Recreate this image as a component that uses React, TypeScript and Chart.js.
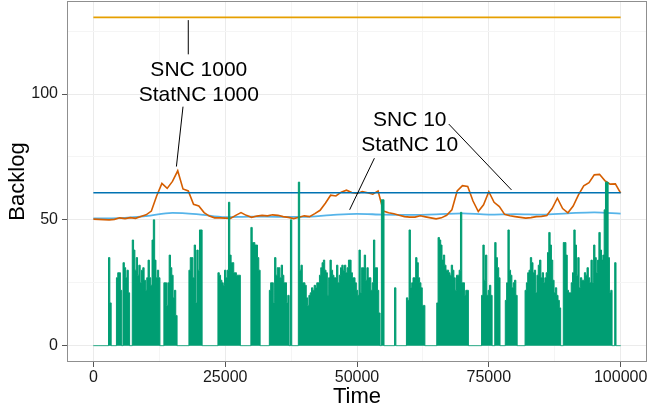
import React, { useEffect, useRef } from "react";
import { Chart, registerables } from "chart.js";

Chart.register(...registerables);

// ---- data ----
const BACKLOG_STEP = 250; // time between backlog samples
const backlogValues = [
  0, 0, 0, 0, 0, 0, 0, 0, 0, 0, 0, 0, 35, 17, 0, 0, 0, 0, 27, 29,
  29, 22, 0, 33, 31, 27, 30, 21, 0, 0, 42, 38, 30, 35, 28, 32, 25, 30, 31, 26,
  22, 27, 34, 27, 24, 42, 50, 34, 27, 30, 27, 0, 0, 0, 25, 25, 16, 25, 36, 31,
  28, 19, 22, 12, 0, 0, 0, 0, 0, 0, 0, 0, 0, 30, 35, 35, 27, 40, 17, 38,
  30, 46, 46, 0, 0, 0, 0, 0, 0, 0, 0, 0, 0, 0, 0, 29, 28, 26, 25, 24,
  30, 27, 30, 57, 36, 33, 33, 29, 29, 28, 28, 28, 0, 0, 0, 0, 0, 0, 0, 0,
  47, 41, 41, 40, 40, 35, 30, 0, 0, 0, 0, 0, 0, 0, 22, 25, 25, 17, 35, 28,
  31, 31, 27, 32, 28, 25, 25, 17, 20, 0, 50, 0, 0, 0, 0, 0, 65, 30, 32, 25,
  25, 24, 19, 16, 20, 21, 23, 22, 24, 23, 25, 25, 28, 31, 33, 34, 30, 29, 20, 27,
  34, 30, 28, 27, 27, 32, 25, 28, 31, 32, 30, 32, 29, 31, 34, 34, 29, 27, 27, 25,
  22, 20, 38, 21, 31, 31, 36, 26, 31, 27, 27, 22, 25, 42, 31, 31, 22, 13, 0, 58,
  58, 0, 0, 0, 0, 0, 0, 0, 0, 23, 0, 0, 0, 0, 0, 0, 0, 0, 19, 18,
  46, 23, 25, 27, 27, 35, 33, 27, 25, 23, 16, 16, 0, 0, 0, 0, 0, 0, 0, 0,
  0, 17, 43, 42, 40, 34, 36, 32, 30, 30, 29, 28, 32, 30, 27, 22, 28, 28, 30, 53,
  25, 25, 20, 22, 22, 0, 0, 0, 0, 0, 0, 0, 0, 0, 0, 20, 40, 26, 36, 20,
  22, 24, 20, 0, 0, 41, 35, 31, 27, 0, 0, 0, 0, 18, 25, 46, 30, 28, 23, 25,
  26, 20, 0, 0, 0, 0, 0, 0, 22, 25, 29, 30, 35, 33, 29, 30, 21, 28, 32, 34,
  27, 29, 25, 27, 29, 37, 45, 40, 34, 26, 21, 23, 20, 18, 15, 0, 0, 41, 41, 36,
  22, 21, 21, 25, 29, 46, 40, 28, 35, 23, 27, 26, 26, 29, 28, 31, 27, 25, 34, 25,
  40, 35, 29, 34, 45, 38, 34, 36, 54, 65, 65, 35, 21, 22, 0, 0, 33, 0, 0, 0,
  0,
];

const STATNC1000_STEP = 1000;
const statNc1000Values = [
  50.3, 50.2, 50.1, 50.0, 50.2, 50.8, 50.5, 50.9, 50.6, 51.3,
  52.0, 53.5, 59.5, 64.5, 62.5, 65.3, 69.5, 62.3, 61.5, 56.2,
  55.5, 52.9, 51.5, 50.8, 50.8, 50.7, 50.6, 51.8, 52.9, 51.8,
  51.0, 51.5, 51.8, 51.6, 52.0, 51.8, 51.3, 51.0, 50.5, 51.0,
  51.6, 51.3, 52.5, 53.8, 56.6, 59.8, 59.5, 61.0, 61.8, 60.9,
  60.5, 61.2, 60.8, 60.2, 61.5, 53.5, 52.8, 52.4, 51.8, 51.3,
  51.1, 51.1, 51.6, 51.2, 50.8, 50.4, 50.8, 51.8, 54.0, 61.5,
  63.6, 63.3, 57.5, 53.3, 56.0, 61.2, 57.0, 55.3, 52.2, 51.6,
  51.3, 51.0, 50.7, 50.9, 51.3, 51.4, 51.7, 54.5, 58.6, 54.5,
  52.8, 55.5, 59.9, 63.5, 64.8, 67.9, 68.1, 65.6, 64.2, 64.3,
  60.6,
];

const STATNC10_STEP = 5000;
const statNc10Values = [
  50.6, 50.7, 51.5, 52.8, 52.2, 51.1, 51.3, 51.2, 51.2, 51.9,
  52.4, 52.1, 52.0, 52.2, 52.6, 52.1, 52.3, 52.1, 52.6, 53.0,
  52.5,
];

const timeSpan = [0, 100000];
const snc1000Values = [130.5, 130.5];
const snc10Values = [60.8, 60.8];

const xMajorTicks = [0, 25000, 50000, 75000, 100000];
const xMinorTicks = [12500, 37500, 62500, 87500];
const yMajorTicks = [0, 50, 100];
const yMinorTicks = [25, 75, 125];

const labelTexts = [
  ["SNC 1000", "StatNC 1000"],
  ["SNC 10", "StatNC 10"],
];
// label anchors in data units: [time, backlog line1, backlog line2]
const labelAnchors = [
  [20000, 109.5, 99.6],
  [60000, 89.7, 79.8],
];
// leader segments in data units: [t1, b1, t2, b2]
const leaderSegments = [
  [18000, 129.4, 18000, 115.8],
  [17000, 95.0, 15750, 71.2],
  [67400, 88.1, 79300, 61.9],
  [53300, 74.5, 48600, 54.0],
];

const FONT = '"Liberation Sans", Arial, Helvetica, sans-serif';

const toPoints = (vals: number[], step: number) =>
  vals.map((v, i) => ({ x: i * step, y: v }));

const decorPlugin = {
  id: "decor",
  afterDatasetsDraw(chart: any) {
    const { ctx, chartArea, scales } = chart;
    const xs = scales.x;
    const ys = scales.y;
    ctx.save();
    ctx.strokeStyle = "#000";
    ctx.lineWidth = 1;
    leaderSegments.forEach(([t1, b1, t2, b2]) => {
      ctx.beginPath();
      ctx.moveTo(xs.getPixelForValue(t1), ys.getPixelForValue(b1));
      ctx.lineTo(xs.getPixelForValue(t2), ys.getPixelForValue(b2));
      ctx.stroke();
    });
    ctx.fillStyle = "#000";
    ctx.font = `21px ${FONT}`;
    ctx.textAlign = "center";
    ctx.textBaseline = "middle";
    labelTexts.forEach((lines, i) => {
      const [t, y1, y2] = labelAnchors[i];
      const px = xs.getPixelForValue(t);
      ctx.fillText(lines[0], px, ys.getPixelForValue(y1));
      ctx.fillText(lines[1], px, ys.getPixelForValue(y2));
    });
    ctx.strokeStyle = "#8f8f8f";
    ctx.lineWidth = 1;
    ctx.strokeRect(
      Math.round(chartArea.left) + 0.5,
      Math.round(chartArea.top) + 0.5,
      Math.round(chartArea.right - chartArea.left) - 1,
      Math.round(chartArea.bottom - chartArea.top) - 1
    );
    ctx.restore();
  },
};

const isMinor = (v: number, minors: number[]) => minors.includes(v);

export default function App() {
  const canvasRef = useRef<HTMLCanvasElement | null>(null);

  useEffect(() => {
    document.body.style.margin = "0";
    const canvas = canvasRef.current;
    if (!canvas) return;

    const chart = new Chart(canvas, {
      type: "line",
      data: {
        datasets: [
          {
            label: "Backlog",
            data: toPoints(backlogValues, BACKLOG_STEP),
            borderColor: "#009E73",
            backgroundColor: "#009E73",
            borderWidth: 1,
            fill: "origin",
            pointRadius: 0,
            stepped: "middle",
          },
          {
            label: "SNC 10",
            data: timeSpan.map((t, i) => ({ x: t, y: snc10Values[i] })),
            borderColor: "#0072B2",
            borderWidth: 1.6,
            pointRadius: 0,
            fill: false,
          },
          {
            label: "StatNC 1000",
            data: toPoints(statNc1000Values, STATNC1000_STEP),
            borderColor: "#D55E00",
            borderWidth: 1.6,
            pointRadius: 0,
            fill: false,
            tension: 0,
          },
          {
            label: "StatNC 10",
            data: toPoints(statNc10Values, STATNC10_STEP),
            borderColor: "#56B4E9",
            borderWidth: 1.8,
            pointRadius: 0,
            fill: false,
            cubicInterpolationMode: "monotone",
          },
          {
            label: "SNC 1000",
            data: timeSpan.map((t, i) => ({ x: t, y: snc1000Values[i] })),
            borderColor: "#E69F00",
            borderWidth: 1.6,
            pointRadius: 0,
            fill: false,
          },
        ],
      },
      options: {
        animation: false,
        responsive: true,
        maintainAspectRatio: false,
        parsing: false as any,
        layout: { padding: { top: 1, right: 2, left: 0, bottom: 0 } },
        plugins: {
          legend: { display: false },
          tooltip: { enabled: false },
        },
        scales: {
          x: {
            type: "linear",
            min: -5000,
            max: 105000,
            afterBuildTicks: (scale: any) => {
              scale.ticks = [...xMajorTicks, ...xMinorTicks]
                .sort((a, b) => a - b)
                .map((v) => ({ value: v }));
            },
            afterFit: (scale: any) => {
              scale.height = 49;
              scale.paddingLeft = 0;
              scale.paddingRight = 0;
            },
            border: { display: false },
            grid: {
              color: (c: any) =>
                isMinor(c.tick?.value, xMinorTicks) ? "#F5F5F5" : "#EBEBEB",
              lineWidth: 1,
              tickLength: 5,
              tickColor: (c: any) =>
                isMinor(c.tick?.value, xMinorTicks) ? "rgba(0,0,0,0)" : "#555",
            },
            ticks: {
              padding: 1,
              maxRotation: 0,
              autoSkip: false,
              color: "#1a1a1a",
              font: { family: FONT, size: 16 },
              callback: (v: any) => (xMajorTicks.includes(v) ? String(v) : ""),
            },
            title: {
              display: true,
              text: "Time",
              color: "#000",
              font: { family: FONT, size: 22 },
              padding: { top: 0, bottom: 1 },
            },
          },
          y: {
            type: "linear",
            min: -6.5,
            max: 137,
            afterBuildTicks: (scale: any) => {
              scale.ticks = [...yMajorTicks, ...yMinorTicks]
                .sort((a, b) => a - b)
                .map((v) => ({ value: v }));
            },
            afterFit: (scale: any) => {
              scale.width = 67;
              scale.paddingTop = 0;
              scale.paddingBottom = 0;
            },
            border: { display: false },
            grid: {
              color: (c: any) =>
                isMinor(c.tick?.value, yMinorTicks) ? "#F5F5F5" : "#EBEBEB",
              lineWidth: 1,
              tickLength: 5,
              tickColor: (c: any) =>
                isMinor(c.tick?.value, yMinorTicks) ? "rgba(0,0,0,0)" : "#555",
            },
            ticks: {
              padding: 4,
              autoSkip: false,
              color: "#1a1a1a",
              font: { family: FONT, size: 16 },
              callback: (v: any) => (yMajorTicks.includes(v) ? String(v) : ""),
            },
            title: {
              display: true,
              text: "Backlog",
              color: "#000",
              font: { family: FONT, size: 22 },
              padding: { top: 5, bottom: 0 },
            },
          },
        },
      },
      plugins: [decorPlugin],
    });

    return () => chart.destroy();
  }, []);

  return (
    <div style={{ position: "absolute", left: 0, top: 0, width: 649, height: 411 }}>
      <canvas ref={canvasRef} />
    </div>
  );
}
